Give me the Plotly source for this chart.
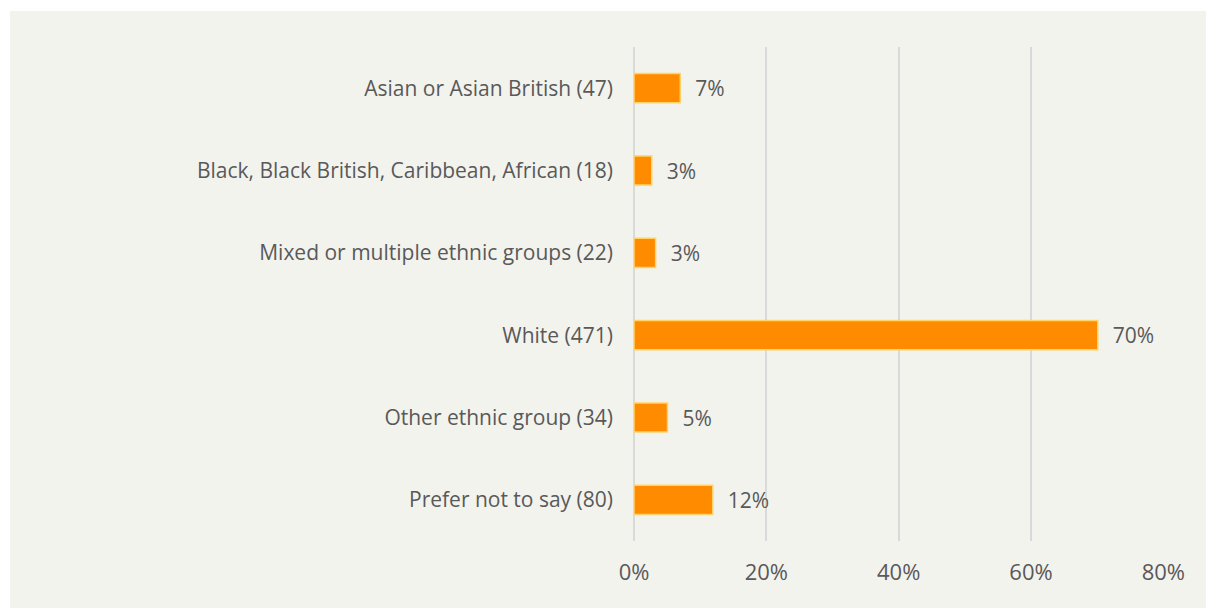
import plotly.graph_objects as go

# Ethnic group of respondents, with respondent counts, top to bottom
categories = [
    "Asian or Asian British (47)",
    "Black, Black British, Caribbean, African (18)",
    "Mixed or multiple ethnic groups (22)",
    "White (471)",
    "Other ethnic group (34)",
    "Prefer not to say (80)",
]
counts = [47, 18, 22, 471, 34, 80]
# Share of respondents (%)
shares = [7.0, 2.68, 3.27, 70.09, 5.06, 11.9]
x_ticks = [0, 20, 40, 60, 80]

W, H = 1206, 608
ML, MR, MT, MB = 634, 42, 47, 67
pw, ph = W - ML - MR, H - MT - MB

BG = "#F3F3EE"
TXT = "#595959"
FONT = "Open Sans, sans-serif"

fig = go.Figure(
    go.Bar(
        y=categories,
        x=shares,
        orientation="h",
        marker=dict(color="#FF8C00", line=dict(color="#FFD36A", width=1.5)),
        text=[f"\u2007{v:.0f}%" for v in shares],
        textposition="outside",
        textfont=dict(family=FONT, size=21, color=TXT),
        cliponaxis=False,
        hoverinfo="skip",
    )
)

fig.update_layout(
    width=W,
    height=H,
    margin=dict(l=ML, r=MR, t=MT, b=MB),
    paper_bgcolor=BG,
    plot_bgcolor=BG,
    bargap=0.645,
    showlegend=False,
    font=dict(family=FONT, color=TXT),
    shapes=[
        # white strips framing the panel on the top and left
        dict(type="rect", xref="paper", yref="paper", layer="below",
             x0=-ML / pw, x1=(W - ML) / pw, y0=(H - MB - 11) / ph, y1=(H - MB) / ph + 0.01,
             fillcolor="white", line=dict(width=0)),
        dict(type="rect", xref="paper", yref="paper", layer="below",
             x0=-ML / pw - 0.01, x1=(10 - ML) / pw, y0=-MB / ph - 0.01, y1=(H - MB) / ph + 0.01,
             fillcolor="white", line=dict(width=0)),
    ],
)

fig.update_xaxes(
    range=[0, 80.1],
    tickvals=x_ticks,
    ticktext=[f"{t}%" for t in x_ticks],
    showgrid=True,
    gridcolor="#D9D9D9",
    gridwidth=1.5,
    zeroline=True,
    zerolinecolor="#D9D9D9",
    zerolinewidth=1.5,
    showline=False,
    ticks="",
    tickfont=dict(family=FONT, size=22, color=TXT),
    ticklabelstandoff=16,
    fixedrange=True,
)

fig.update_yaxes(
    categoryorder="array",
    categoryarray=categories[::-1],
    showgrid=False,
    zeroline=False,
    showline=False,
    ticks="",
    tickfont=dict(family=FONT, size=21, color=TXT),
    ticklabelstandoff=20,
    fixedrange=True,
)

fig.write_html("out.html", config={"displayModeBar": False})
